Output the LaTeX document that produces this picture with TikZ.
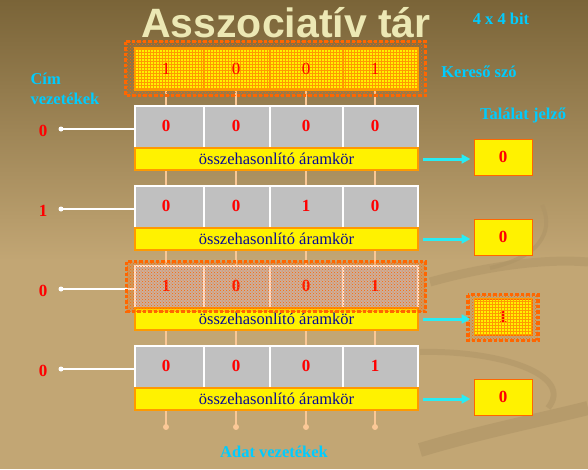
\documentclass[tikz,border=0pt]{standalone}
\usepackage{fontspec}
\setmainfont{Liberation Serif}
\newfontfamily\cimbetu{Liberation Sans}
\usetikzlibrary{positioning,patterns,arrows.meta}

\definecolor{hattersot}{RGB}{122,100,56}
\definecolor{hattervil}{RGB}{194,166,116}
\definecolor{orvany}{RGB}{174,148,102}
\definecolor{cimszin}{RGB}{236,232,180}
\definecolor{ciankek}{RGB}{0,204,255}
\definecolor{nyilszin}{RGB}{40,236,244}
\definecolor{szurke}{RGB}{192,192,192}
\definecolor{narancs}{RGB}{255,153,0}
\definecolor{narancsvor}{RGB}{255,102,0}
\definecolor{sotetkek}{RGB}{10,10,150}
\definecolor{barack}{RGB}{250,200,150}

\tikzset{
  felirat/.style={text=ciankek, font=\fontsize{16.5}{20}\selectfont\bfseries},
  bit/.style={text=red, font=\fontsize{17}{18}\selectfont\bfseries},
  cella/.style={fill=szurke, draw=white, line width=1.5pt, minimum width=283pt, minimum height=42pt, inner sep=0pt},
  valaszto/.style={draw=white, line width=1.5pt},
  komparator/.style={fill=yellow, draw=narancs, line width=1.5pt, minimum width=283pt, minimum height=22pt, inner sep=0pt, text=sotetkek, font=\fontsize{16.5}{18}\selectfont},
  jelzo/.style={fill=yellow, draw=narancsvor, line width=1pt, minimum width=58pt, minimum height=36pt, inner sep=0pt, bit},
  nyil/.style={draw=nyilszin, line width=3pt, -{Triangle[length=9pt,width=9pt]}},
  adatvonal/.style={draw=barack, line width=1.5pt},
  cimvonal/.style={draw=white, line width=1.5pt},
  kiemeles/.style={draw=narancsvor, line width=3.5pt, dash pattern=on 3.5pt off 2pt, pattern=crosshatch dots, pattern color=narancsvor},
  racs/.style={fill=yellow, postaction={pattern=grid, pattern color=narancs}}
}

% one row of the memory: name, top, bits, address, match
\def\sor(#1)(#2)(#3,#4,#5,#6)(#7)(#8){%
  \node[cella] (c#1) at (276.5,{#2+21}) {};
  \foreach \x in {204,270,343} \draw[valaszto] (\x,#2) -- (\x,{#2+43});
  \node[bit] (b#1a) at (166,{#2+20}) {#3};
  \node[bit] (b#1b) at (236,{#2+20}) {#4};
  \node[bit] (b#1c) at (306,{#2+20}) {#5};
  \node[bit] (b#1d) at (375,{#2+20}) {#6};
  \node[komparator, below=-1.5pt of c#1] (k#1) {összehasonlító áramkör};
  \node[jelzo] (e#1) at (503,{#2+51}) {#8};
  \draw[nyil, shorten <=4pt, shorten >=3pt] (k#1.east) -- (k#1.east -| e#1.west);
  \node[bit] (a#1) at (43,{#2+25}) {#7};
  \coordinate (p#1) at (61,{#2+23});
  \draw[cimvonal] (p#1) -- (p#1 -| c#1.west);
  \fill[white] (p#1) circle (2.5);
}

\begin{document}
\begin{tikzpicture}[x=1pt,y=-1pt]
	\useasboundingbox (0,0) rectangle (588,469);
	\shade[top color=hattersot, bottom color=hattervil] (0,0) rectangle (588,260);
	\fill[hattervil] (0,259) rectangle (588,469);
	
	% swirls in the background
	\draw[orvany, line width=9, opacity=0.5] (430,282) .. controls (480,268) and (540,258) .. (588,262);
	\draw[orvany, line width=4, opacity=0.6] (542,205) .. controls (552,225) and (548,255) .. (490,268);
	\draw[orvany, line width=6, opacity=0.5] (420,352) .. controls (500,350) and (575,375) .. (548,408);
	\draw[orvany, line width=14, opacity=0.6] (420,450) .. controls (480,432) and (540,420) .. (588,408);
	
	% title
	\node[font=\fontsize{41}{41}\selectfont\cimbetu\bfseries, text=cimszin, anchor=base] (cim) at (286,37) {Asszociatív tár};
	
	% data lines
	\coordinate (t1) at (166,90); \coordinate (v1) at (166,427);
	\coordinate (t2) at (236,90); \coordinate (v2) at (236,427);
	\coordinate (t3) at (306,90); \coordinate (v3) at (306,427);
	\coordinate (t4) at (375,90); \coordinate (v4) at (375,427);
	\draw[adatvonal] (t1) -- (v1); \fill[barack] (v1) circle (3);
	\draw[adatvonal] (t2) -- (v2); \fill[barack] (v2) circle (3);
	\draw[adatvonal] (t3) -- (v3); \fill[barack] (v3) circle (3);
	\draw[adatvonal] (t4) -- (v4); \fill[barack] (v4) circle (3);
	
	% search word
	\draw[kiemeles] (125.5,41.5) rectangle (425.5,95.5);
	\draw[racs, draw=narancs, line width=2pt] (135,48) rectangle (418,90);
	\foreach \x in {204,270,343} \draw[narancs, line width=2pt] (\x,48) -- (\x,90);
	\node[text=red, font=\fontsize{17}{18}\selectfont] (s1) at (166,69) {1};
	\node[text=red, font=\fontsize{17}{18}\selectfont] (s2) at (236,69) {0};
	\node[text=red, font=\fontsize{17}{18}\selectfont] (s3) at (306,69) {0};
	\node[text=red, font=\fontsize{17}{18}\selectfont] (s4) at (375,69) {1};
	
	\draw[kiemeles] (468,294.5) rectangle (538,340.5);
	
	\sor(1)(106)(0,0,0,0)(0)(0)
	\sor(2)(186)(0,0,1,0)(1)(0)
	\sor(3)(266)(1,0,0,1)(0)(1)
	\sor(4)(346)(0,0,0,1)(0)(0)
	
	% the matching row
	\fill[narancsvor, opacity=0.18] (126.5,261.5) rectangle (425.5,311.5);
	\draw[kiemeles] (126.5,261.5) rectangle (425.5,311.5);
	\path[pattern=grid, pattern color=narancs] (e3.north west) rectangle (e3.south east);
	
	\node[felirat] (szam) at (501,19) {4 x 4 bit};
	\node[felirat] (kereso) at (479,72) {Kereső szó};
	\node[felirat, align=left, anchor=west] (cimvez) at (27,89) {Cím\\vezetékek};
	\node[felirat] (talalat) at (523,115) {Találat jelző};
	\node[felirat] (adatvez) at (274,452) {Adat vezetékek};
\end{tikzpicture}
\end{document}
